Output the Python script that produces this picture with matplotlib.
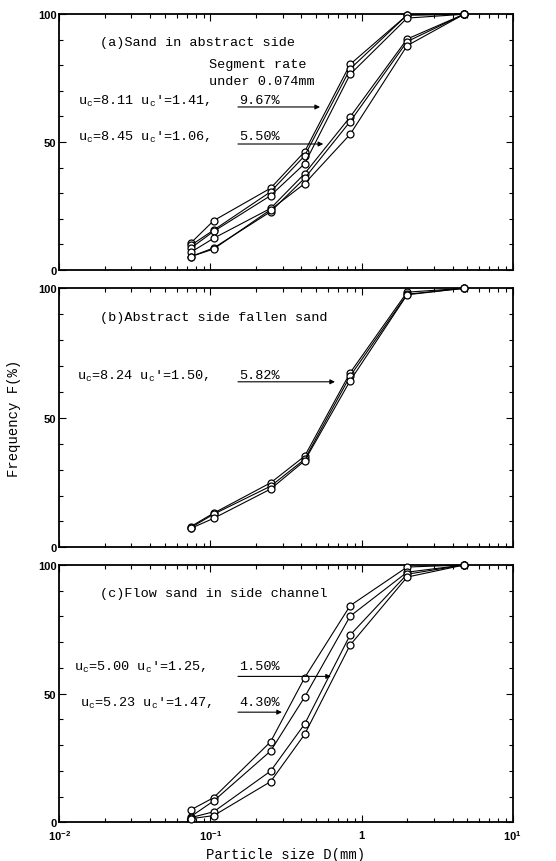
# Grain size distribution curves of sand, three sampling sites

# Import necessary packages ~~~~~~~~~~~~~~~~~~~~~~~~~~~~~~~~~~~~~~~~~~~~~~~~~~~~~~~

import numpy as np
import matplotlib.pyplot as plt
from matplotlib.ticker import FixedLocator, NullFormatter


# Data ~~~~~~~~~~~~~~~~~~~~~~~~~~~~~~~~~~~~~~~~~~~~~~~~~~~~~~~~~~~~~~~~~~~~~~~~~~~~~

# sieve sizes in mm
D = [0.074, 0.105, 0.25, 0.42, 0.84, 2.0, 4.76]

# (a) sand in abstract side, passing percentage
Fa1 = [10.4, 19.2, 31.9, 46.2, 80.4, 99.7, 100]
Fa2 = [9.5, 15.5, 30.5, 44.6, 78.6, 99.7, 100]
Fa3 = [8.4, 15.0, 29.0, 41.5, 76.5, 98.5, 100]
Fa4 = [6.8, 12.3, 24.0, 37.6, 59.8, 90.3, 100]
Fa5 = [5.1, 8.5, 22.7, 35.8, 58.0, 89.3, 100]
Fa6 = [5.1, 8.1, 23.5, 33.7, 53.0, 87.7, 100]

# (b) abstract side fallen sand
Fb1 = [8.0, 13.2, 24.9, 35.2, 67.4, 98.5, 100]
Fb2 = [7.6, 12.8, 23.6, 34.0, 66.1, 97.7, 100]
Fb3 = [7.3, 11.2, 22.5, 33.4, 64.3, 97.5, 100]

# (c) flow sand in side channel
Fc1 = [4.8, 9.6, 31.3, 56.2, 84.2, 99.2, 100]
Fc2 = [2.2, 8.3, 27.7, 48.7, 80.1, 97.2, 100]
Fc3 = [1.8, 4.1, 19.9, 38.2, 72.8, 96.4, 100]
Fc4 = [1.4, 2.6, 15.8, 34.2, 68.9, 95.3, 100]

titles = ['(a)Sand in abstract side', '(b)Abstract side fallen sand',
          '(c)Flow sand in side channel']

xtick_vals = [0.01, 0.1, 1, 10]
xtick_labels = [r'$\mathbf{10^{-2}}$', r'$\mathbf{10^{-1}}$', r'$\mathbf{1}$', r'$\mathbf{10^{1}}$']


# Style ~~~~~~~~~~~~~~~~~~~~~~~~~~~~~~~~~~~~~~~~~~~~~~~~~~~~~~~~~~~~~~~~~~~~~~~~~~~~

plt.rcParams['mathtext.fontset'] = 'custom'
plt.rcParams['mathtext.rm'] = 'Liberation Mono'
plt.rcParams['mathtext.it'] = 'Liberation Mono'
plt.rcParams['mathtext.bf'] = 'Liberation Sans:bold'

mono = 'Liberation Mono'
fs = 9.7


def setup(ax, last):
    ax.set_xscale('log')
    ax.set_xlim(0.01, 10)
    ax.set_ylim(0, 100)
    ax.set_yticks([0, 50, 100])
    ax.yaxis.set_minor_locator(FixedLocator(np.arange(10, 100, 10)))
    ax.set_yticklabels(['0', '50', '100'], fontfamily='Liberation Sans',
                       fontweight='bold', fontsize=8)
    ax.set_xticks(xtick_vals)
    if last:
        ax.set_xticklabels(xtick_labels, fontsize=8)
    else:
        ax.xaxis.set_major_formatter(NullFormatter())
    ax.xaxis.set_minor_formatter(NullFormatter())
    ax.tick_params(which='both', direction='in', top=True, right=True, width=0.8)
    ax.tick_params(which='major', length=5, pad=2)
    ax.tick_params(axis='x', which='major', pad=4)
    ax.tick_params(which='minor', length=3)
    for s in ax.spines.values():
        s.set_linewidth(1.3)


def curve(ax, F):
    ax.plot(D, F, '-o', color='k', lw=0.8, ms=5, mfc='white', mec='k',
            mew=0.9, clip_on=False, zorder=3)


def note(ax, y, label, pct, x0, xend, ya):
    tr = ax.get_yaxis_transform()
    ax.text(x0, y, label, transform=tr, fontfamily=mono, fontsize=fs, va='center')
    ax.text(0.397, y, pct, transform=tr, fontfamily=mono, fontsize=fs, va='center')
    ax.annotate('', xy=(xend, ya), xytext=(0.394, ya), xycoords=tr, textcoords=tr,
                arrowprops=dict(arrowstyle='-|>', lw=0.8, color='k',
                                mutation_scale=7, shrinkA=0, shrinkB=0))


# Plots ~~~~~~~~~~~~~~~~~~~~~~~~~~~~~~~~~~~~~~~~~~~~~~~~~~~~~~~~~~~~~~~~~~~~~~~~~~~

fig = plt.figure(figsize=(5.56, 8.62), dpi=100)

axa = fig.add_axes([0.1067, 0.686, 0.8155, 0.2963])
axb = fig.add_axes([0.1067, 0.3639, 0.8155, 0.3005])
axc = fig.add_axes([0.1067, 0.0449, 0.8155, 0.2985])

# (a)
for F in [Fa1, Fa2, Fa3, Fa4, Fa5, Fa6]:
    curve(axa, F)
setup(axa, False)
tr = axa.get_yaxis_transform()
axa.text(0.090, 89.2, titles[0], transform=tr, fontfamily=mono, fontsize=fs, va='center')
axa.text(0.331, 80.5, 'Segment rate', transform=tr, fontfamily=mono, fontsize=fs, va='center')
axa.text(0.331, 73.9, 'under 0.074mm', transform=tr, fontfamily=mono, fontsize=fs, va='center')
note(axa, 66.4, r"u$_c$=8.11 u$_c$'=1.41,", '9.67%', 0.041, 0.575, 63.7)
note(axa, 52.3, r"u$_c$=8.45 u$_c$'=1.06,", '5.50%', 0.041, 0.582, 49.2)

# (b)
for F in [Fb1, Fb2, Fb3]:
    curve(axb, F)
setup(axb, False)
tr = axb.get_yaxis_transform()
axb.text(0.090, 89.0, titles[1], transform=tr, fontfamily=mono, fontsize=fs, va='center')
note(axb, 66.5, r"u$_c$=8.24 u$_c$'=1.50,", '5.82%', 0.039, 0.608, 63.9)
axb.set_ylabel('Frequency F(%)', fontfamily=mono, fontsize=10, labelpad=12)

# (c)
for F in [Fc1, Fc2, Fc3, Fc4]:
    curve(axc, F)
setup(axc, True)
tr = axc.get_yaxis_transform()
axc.text(0.090, 89.1, titles[2], transform=tr, fontfamily=mono, fontsize=fs, va='center')
note(axc, 60.7, r"u$_c$=5.00 u$_c$'=1.25,", '1.50%', 0.032, 0.599, 56.7)
note(axc, 46.6, r"u$_c$=5.23 u$_c$'=1.47,", '4.30%', 0.046, 0.491, 42.8)
axc.set_xlabel('Particle size D(mm)', fontfamily=mono, fontsize=10, labelpad=4)

plt.savefig('out.png', dpi=100)
